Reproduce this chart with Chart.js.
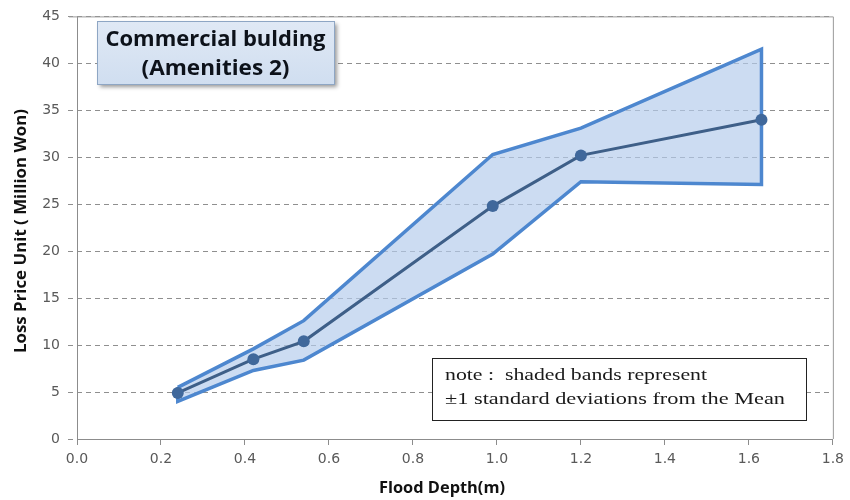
<!DOCTYPE html>
<html>
<head>
<meta charset="utf-8">
<script src="https://cdn.jsdelivr.net/npm/chart.js@4/dist/chart.umd.min.js"></script>
<style>
  html, body { margin: 0; padding: 0; background: #ffffff; }
  #wrap { width: 850px; height: 500px; }
</style>
</head>
<body>
<div id="wrap"><canvas id="chart" width="850" height="500"></canvas></div>
<script>
// Flood depth (m) of each surveyed case
const depth = [0.24, 0.42, 0.54, 0.99, 1.2, 1.63];
// Mean loss price per unit (million won)
const meanLoss = [4.9, 8.5, 10.4, 24.8, 30.2, 34.0];
// Mean + 1 standard deviation
const upperLoss = [5.5, 9.6, 12.6, 30.3, 33.1, 41.5];
// Mean - 1 standard deviation
const lowerLoss = [4.0, 7.3, 8.4, 19.7, 27.4, 27.1];

const yTicks = [0, 5, 10, 15, 20, 25, 30, 35, 40, 45];
const xTicks = [0, 0.2, 0.4, 0.6, 0.8, 1.0, 1.2, 1.4, 1.6, 1.8];

const titleLines = ['Commercial bulding', '(Amenities 2)'];
const noteLines = ['note :  shaded bands represent', '\u00b11 standard deviations from the Mean'];
const xTitle = 'Flood Depth(m)';
const yTitle = 'Loss Price Unit ( Million Won)';

const meanPoints = depth.map((d, i) => ({ x: d, y: meanLoss[i] }));
// closed outline of the ±1 SD band: upper edge left to right, lower edge back
const bandPoints = depth.map((d, i) => ({ x: d, y: upperLoss[i] }))
  .concat(depth.map((d, i) => ({ x: d, y: lowerLoss[i] })).reverse());
bandPoints.push({ x: depth[0], y: upperLoss[0] });

function fitText(ctx, text, x, y, width, align) {
  const w = ctx.measureText(text).width;
  const sx = width / w;
  ctx.save();
  ctx.translate(x, y);
  ctx.scale(sx, 1);
  ctx.textAlign = align;
  ctx.fillText(text, 0, 0);
  ctx.restore();
}

const decorations = {
  id: 'decorations',
  beforeDatasetsDraw(chart) {
    const ctx = chart.ctx;
    const a = chart.chartArea;
    // plot frame: solid value axis, top and right edges
    ctx.save();
    ctx.strokeStyle = '#8c8c8c';
    ctx.lineWidth = 1;
    ctx.beginPath();
    ctx.moveTo(a.left + 0.5, a.bottom);
    ctx.lineTo(a.left + 0.5, a.top);
    ctx.stroke();
    ctx.strokeStyle = '#9a9a9a';
    ctx.beginPath();
    ctx.moveTo(a.left - 8, a.top + 0.5);
    ctx.lineTo(a.right + 0.5, a.top + 0.5);
    ctx.lineTo(a.right + 0.5, a.bottom);
    ctx.stroke();
    ctx.restore();
  },
  afterDraw(chart) {
    const ctx = chart.ctx;

    // title box
    ctx.save();
    const bx = 97, by = 21, bw = 237, bh = 63;
    ctx.shadowColor = 'rgba(0,0,0,0.4)';
    ctx.shadowBlur = 4;
    ctx.shadowOffsetX = 3;
    ctx.shadowOffsetY = 3;
    const g = ctx.createLinearGradient(0, by, 0, by + bh);
    g.addColorStop(0, '#e0e9f5');
    g.addColorStop(1, '#d0def0');
    ctx.fillStyle = g;
    ctx.fillRect(bx, by, bw, bh);
    ctx.shadowColor = 'transparent';
    ctx.strokeStyle = '#8ea6c4';
    ctx.lineWidth = 1;
    ctx.strokeRect(bx + 0.5, by + 0.5, bw, bh);
    ctx.fillStyle = '#0d121a';
    ctx.font = 'bold 21px "Open Sans", sans-serif';
    ctx.textBaseline = 'middle';
    fitText(ctx, titleLines[0], bx + bw / 2, 40, 220, 'center');
    fitText(ctx, titleLines[1], bx + bw / 2, 69, 148, 'center');
    ctx.restore();

    // note box
    ctx.save();
    const nx = 432, ny = 358, nw = 374, nh = 62;
    ctx.fillStyle = '#ffffff';
    ctx.fillRect(nx, ny, nw, nh);
    ctx.strokeStyle = '#222222';
    ctx.lineWidth = 1;
    ctx.strokeRect(nx + 0.5, ny + 0.5, nw, nh);
    ctx.fillStyle = '#1a1a1a';
    ctx.font = '17px "Liberation Serif", serif';
    ctx.textBaseline = 'middle';
    fitText(ctx, noteLines[0], 445, 376, 262, 'left');
    fitText(ctx, noteLines[1], 445, 400, 340, 'left');
    ctx.restore();

    // axis titles
    ctx.save();
    ctx.fillStyle = '#111111';
    ctx.font = 'bold 16px "Open Sans", sans-serif';
    ctx.textBaseline = 'middle';
    fitText(ctx, xTitle, 442, 488, 126, 'center');
    ctx.translate(21, 231);
    ctx.rotate(-Math.PI / 2);
    fitText(ctx, yTitle, 0, 0, 244, 'center');
    ctx.restore();
  }
};

new Chart(document.getElementById('chart'), {
  type: 'scatter',
  data: {
    datasets: [
      {
        label: 'Mean',
        data: meanPoints,
        showLine: true,
        borderColor: '#3e5f88',
        borderWidth: 3,
        pointRadius: 6,
        pointBackgroundColor: '#40689b',
        pointBorderColor: '#40689b',
        pointBorderWidth: 0,
        order: 0
      },
      {
        label: '\u00b11 SD',
        data: bandPoints,
        showLine: true,
        fill: 'shape',
        backgroundColor: 'rgba(180,204,236,0.68)',
        borderColor: '#4d87cf',
        borderWidth: 3.5,
        borderJoinStyle: 'miter',
        pointRadius: 0,
        order: 1
      }
    ]
  },
  plugins: [decorations],
  options: {
    responsive: false,
    animation: false,
    events: [],
    layout: { padding: { left: 0, top: 15, right: 13, bottom: 0 } },
    plugins: {
      legend: { display: false },
      tooltip: { enabled: false },
      title: { display: false }
    },
    scales: {
      x: {
        type: 'linear',
        min: 0,
        max: 1.8,
        afterFit(scale) { scale.height = 61; },
        afterBuildTicks(scale) { scale.ticks = xTicks.map(v => ({ value: v })); },
        border: { display: true, color: '#8c8c8c', width: 1 },
        grid: { drawOnChartArea: false, drawTicks: true, tickLength: 6, color: '#8c8c8c' },
        ticks: {
          padding: 6,
          color: '#595959',
          font: { family: '"DejaVu Sans", sans-serif', size: 14 },
          maxRotation: 0,
          callback: v => v.toFixed(1)
        }
      },
      y: {
        type: 'linear',
        min: 0,
        max: 45,
        afterFit(scale) { scale.width = 77; },
        afterBuildTicks(scale) { scale.ticks = yTicks.map(v => ({ value: v })); },
        // dashed horizontal gridlines; the solid axis line is drawn by the plugin
        border: { display: false, dash: [5, 4] },
        grid: {
          color: '#8f8f8f',
          lineWidth: 1,
          drawTicks: true,
          tickLength: 9,
          tickBorderDash: [5, 4],
          tickColor: '#8f8f8f'
        },
        ticks: {
          padding: 8,
          color: '#595959',
          font: { family: '"DejaVu Sans", sans-serif', size: 14 },
          callback: v => String(v)
        }
      }
    }
  }
});
</script>
</body>
</html>
